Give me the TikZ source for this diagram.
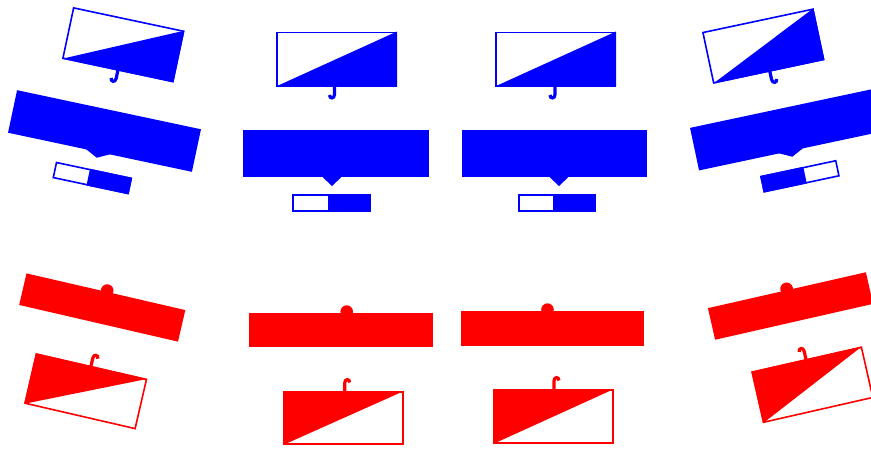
\documentclass[tikz,border=0pt]{standalone}
\tikzset{
  ol/.style={draw, line width=1.6pt, line join=miter},
  hk/.style={draw, line width=3.2pt},
}
\newcommand\HookDn[3]{\draw[hk] (#1,{#2-1}) -- (#1,{#2+8}) .. controls (#1,{#2+12.5}) and ({#1+5*(#3)},{#2+12.5}) .. ({#1+5*(#3)},{#2+8.5});}
\newcommand\HookUp[3]{\draw[hk] (#1,{#2+1}) -- (#1,{#2-8}) .. controls (#1,{#2-12.5}) and ({#1+5*(#3)},{#2-12.5}) .. ({#1+5*(#3)},{#2-8.5});}
\newcommand\BlueTop[4]{\fill (#1,#4) -- (#3,#2) -- (#3,#4) -- cycle; \draw[ol] ({#1+0.8},{#2+0.8}) rectangle ({#3-0.8},{#4-0.8});}
\newcommand\RedBot[4]{\fill (#1,#2) -- (#3,#2) -- (#1,#4) -- cycle; \draw[ol] ({#1+0.8},{#2+0.8}) rectangle ({#3-0.8},{#4-0.8});}
% x1 y1 x2 y2 tip-x half-width depth
\newcommand\BigBlue[7]{\fill (#1,#2) rectangle (#3,#4); \fill ({#5-#6},{#4-0.5}) -- (#5,{#4+#7}) -- ({#5+#6},{#4-0.5}) -- cycle;}
\newcommand\BigRed[5]{\fill (#1,#2) rectangle (#3,#4); \fill (#5,{#2-1.4}) circle (6.3pt);}
\begin{document}
\begin{tikzpicture}[x=1pt,y=-1pt]
\useasboundingbox (0,0) rectangle (871,448);
\clip (0,0) rectangle (871,448);

% ---------- blue, centre left
\begin{scope}[blue, shift={(336,153.5)}]
  \BigBlue{-93}{-23.5}{93}{23.5}{-4}{10}{9}
  \BlueTop{-60}{-122}{61}{-67}
  \HookDn{-1.5}{-67}{-1}
  \fill (-8,40.5) rectangle (35,58.5);
  \draw[ol] (-43.2,41.3) rectangle (34.2,57.7);
\end{scope}

% ---------- blue, centre right
\begin{scope}[blue, shift={(554.5,153.5)}]
  \BigBlue{-92.5}{-23.5}{92.5}{23.5}{4.5}{10}{9}
  \BlueTop{-59.5}{-122}{61.5}{-67}
  \HookDn{0.5}{-67}{-1}
  \fill (-1.5,40.5) rectangle (41.5,58.5);
  \draw[ol] (-35.7,41.3) rectangle (40.7,57.7);
\end{scope}

% ---------- blue, left (tilted)
\begin{scope}[blue, shift={(104.5,131)}, rotate=-12]
  \BigBlue{-94}{-21.75}{94}{21.75}{-2}{13}{6}
  \BlueTop{-56.6}{-114.8}{57.4}{-61.8}
  \HookDn{0.5}{-61.8}{-1}
  \fill (-6.3,40) rectangle (36.8,57);
  \draw[ol] (-40.4,40.8) rectangle (36,56.2);
\end{scope}

% ---------- blue, right (tilted)
\begin{scope}[blue, shift={(786.5,129.6)}, rotate=12]
  \BigBlue{-94}{-21.75}{94}{21.75}{0}{13}{6}
  \BlueTop{-62.35}{-113.1}{51.65}{-60.1}
  \HookDn{-4.2}{-60.1}{1}
  \fill (-35.5,39.9) rectangle (8.65,56.9);
  \draw[ol] (-34.7,40.7) rectangle (41.7,56.1);
\end{scope}

% ---------- red, centre left
\begin{scope}[red, shift={(341,330)}]
  \BigRed{-92}{-17}{92}{17}{5.7}
  \RedBot{-58}{61}{63}{115}
  \HookUp{3.7}{61}{1}
\end{scope}

% ---------- red, centre right
\begin{scope}[red, shift={(552.5,328.5)}]
  \BigRed{-91.5}{-17.5}{91.5}{17.5}{-5}
  \RedBot{-59.5}{60.5}{61.5}{115.5}
  \HookUp{1.5}{60.5}{1}
\end{scope}

% ---------- red, left (tilted)
\begin{scope}[red, shift={(102.25,307.5)}, rotate=-13]
  \BigRed{-81.5}{-16.2}{81.5}{16.2}{1}
  \RedBot{-54.45}{59.4}{60.05}{111.4}
  \HookUp{2.2}{59.4}{1}
\end{scope}

% ---------- red, right (tilted)
\begin{scope}[red, shift={(790.5,306)}, rotate=12.8]
  \BigRed{-81}{-16.2}{81}{16.2}{0}
  \RedBot{-52.8}{55.2}{60.8}{108.2}
  \HookUp{3.3}{55.2}{-1}
\end{scope}
\end{tikzpicture}
\end{document}
